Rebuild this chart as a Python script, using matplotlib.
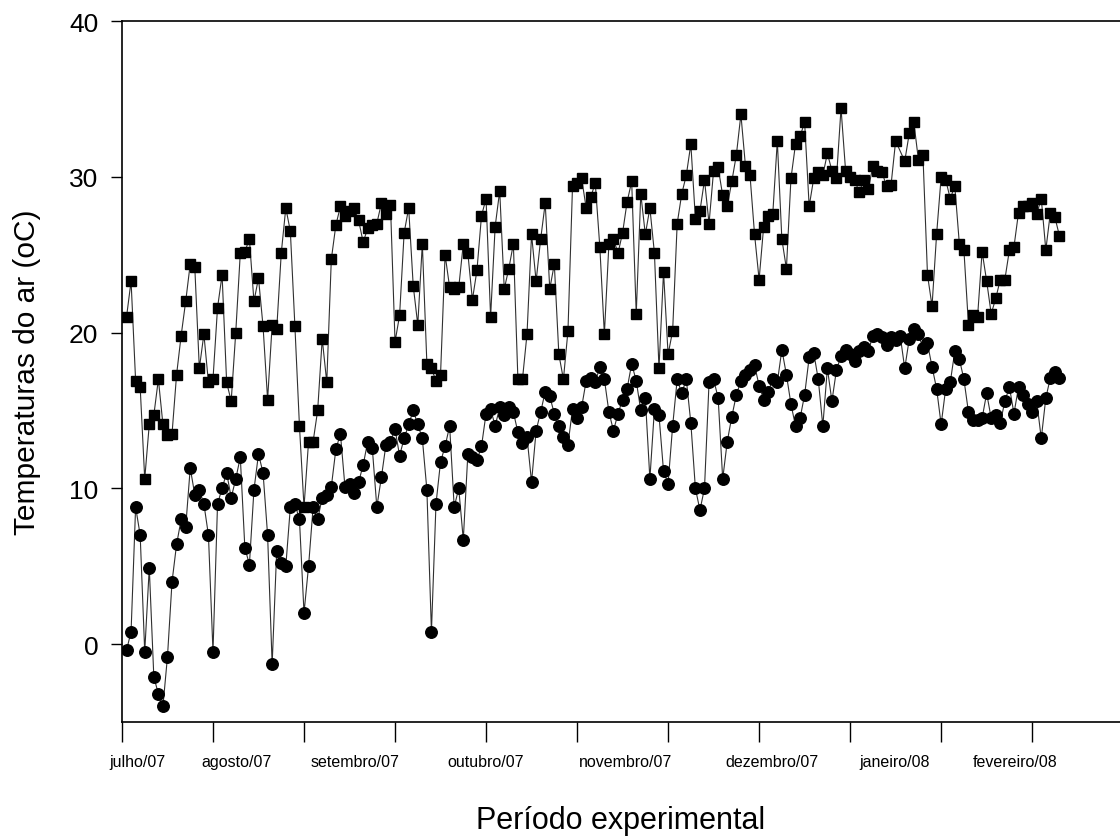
import numpy as np
import matplotlib.pyplot as plt

plt.rcParams['font.family'] = ['Liberation Sans', 'DejaVu Sans']

# dias do periodo experimental (1 = 1o dia de julho/07)
dias = np.arange(1, 207)

# temperatura maxima do ar (sem leitura no dia 171)
t_max = [21.0, 23.3, 16.9, 16.5, 10.6, 14.1, 14.7, 17.0, 14.1, 13.4,
         13.5, 17.3, 19.8, 22.0, 24.4, 24.2, 17.7, 19.9, 16.8, 17.0,
         21.6, 23.7, 16.8, 15.6, 20.0, 25.1, 25.2, 26.0, 22.0, 23.5,
         20.4, 15.7, 20.5, 20.2, 25.1, 28.0, 26.5, 20.4, 14.0, 8.8,
         13.0, 13.0, 15.0, 19.6, 16.8, 24.7, 26.9, 28.1, 27.5, 27.8,
         28.0, 27.2, 25.8, 26.7, 26.9, 27.0, 28.3, 27.6, 28.2, 19.4,
         21.1, 26.4, 28.0, 23.0, 20.5, 25.7, 18.0, 17.7, 16.9, 17.3,
         25.0, 22.9, 22.8, 22.9, 25.7, 25.1, 22.1, 24.0, 27.5, 28.6,
         21.0, 26.8, 29.1, 22.8, 24.1, 25.7, 17.0, 17.0, 19.9, 26.3,
         23.3, 26.0, 28.3, 22.8, 24.4, 18.6, 17.0, 20.1, 29.4, 29.6,
         29.9, 28.0, 28.7, 29.6, 25.5, 19.9, 25.7, 26.0, 25.1, 26.4,
         28.4, 29.7, 21.2, 28.9, 26.3, 28.0, 25.1, 17.7, 23.9, 18.6,
         20.1, 27.0, 28.9, 30.1, 32.1, 27.3, 27.8, 29.8, 27.0, 30.4,
         30.6, 28.8, 28.1, 29.7, 31.4, 34.0, 30.7, 30.1, 26.3, 23.4,
         26.8, 27.5, 27.6, 32.3, 26.0, 24.1, 29.9, 32.1, 32.6, 33.5,
         28.1, 29.9, 30.3, 30.1, 31.5, 30.4, 29.9, 34.4, 30.4, 30.0,
         29.8, 29.0, 29.8, 29.2, 30.7, 30.4, 30.3, 29.4, 29.5, 32.3,
         31.0, 32.8, 33.5, 31.1, 31.4, 23.7, 21.7, 26.3, 30.0, 29.8,
         28.6, 29.4, 25.7, 25.3, 20.5, 21.1, 21.0, 25.2, 23.3, 21.2,
         22.2, 23.4, 23.4, 25.3, 25.5, 27.7, 28.1, 28.1, 28.3, 27.6,
         28.6, 25.3, 27.7, 27.4, 26.2]
dias_max = np.delete(dias, 170)

# temperatura minima do ar
t_min = [-0.4, 0.8, 8.8, 7.0, -0.5, 4.9, -2.1, -3.2, -4.0, -0.8,
         4.0, 6.4, 8.0, 7.5, 11.3, 9.6, 9.9, 9.0, 7.0, -0.5,
         9.0, 10.0, 11.0, 9.4, 10.6, 12.0, 6.2, 5.1, 9.9, 12.2,
         11.0, 7.0, -1.3, 6.0, 5.2, 5.0, 8.8, 9.0, 8.0, 2.0,
         5.0, 8.8, 8.0, 9.4, 9.6, 10.1, 12.5, 13.5, 10.1, 10.3,
         9.7, 10.4, 11.5, 13.0, 12.6, 8.8, 10.7, 12.8, 13.0, 13.8,
         12.1, 13.2, 14.1, 15.0, 14.1, 13.2, 9.9, 0.8, 9.0, 11.7,
         12.7, 14.0, 8.8, 10.0, 6.7, 12.2, 12.0, 11.8, 12.7, 14.8,
         15.1, 14.0, 15.2, 14.7, 15.2, 14.9, 13.6, 12.9, 13.3, 10.4,
         13.7, 14.9, 16.2, 15.9, 14.8, 14.0, 13.3, 12.8, 15.1, 14.5,
         15.2, 16.9, 17.1, 16.8, 17.8, 17.0, 14.9, 13.7, 14.8, 15.7,
         16.4, 18.0, 16.9, 15.0, 15.8, 10.6, 15.1, 14.7, 11.1, 10.3,
         14.0, 17.0, 16.1, 17.0, 14.2, 10.0, 8.6, 10.0, 16.8, 17.0,
         15.8, 10.6, 13.0, 14.6, 16.0, 16.9, 17.3, 17.6, 17.9, 16.6,
         15.7, 16.2, 17.0, 16.8, 18.9, 17.3, 15.4, 14.0, 14.5, 16.0,
         18.4, 18.7, 17.0, 14.0, 17.7, 15.6, 17.6, 18.5, 18.9, 18.6,
         18.2, 18.8, 19.1, 18.8, 19.8, 19.9, 19.7, 19.2, 19.7, 19.5,
         19.8, 17.7, 19.6, 20.2, 19.9, 19.0, 19.3, 17.8, 16.4, 14.1,
         16.4, 16.8, 18.8, 18.3, 17.0, 14.9, 14.4, 14.4, 14.5, 16.1,
         14.5, 14.7, 14.2, 15.6, 16.5, 14.8, 16.5, 16.0, 15.4, 14.9,
         15.6, 13.2, 15.8, 17.1, 17.5, 17.1]

meses = ['julho/07', 'agosto/07', 'setembro/07', 'outubro/07',
         'novembro/07', 'dezembro/07', 'janeiro/08', 'fevereiro/08']
pos_meses = [3.5, 25.1, 51.2, 79.8, 110.6, 142.9, 169.7, 196.2]

fig = plt.figure(figsize=(11.2, 8.37), dpi=100)
ax = fig.add_axes([0.1089, 0.1362, 0.8911, 0.8375])

ax.plot(dias_max, t_max, color='#303030', lw=0.8, marker='s', ms=7.8,
        mfc='black', mec='black')
ax.plot(dias, t_min, color='#303030', lw=0.8, marker='o', ms=8.3,
        mfc='black', mec='black')

ax.set_xlim(0, 219.3)
ax.set_ylim(-5, 40)
ax.set_yticks([0, 10, 20, 30, 40])
ax.tick_params(axis='y', labelsize=19, length=8, width=1, pad=9)

ax.set_xticks(np.arange(0, 201, 20))
ax.set_xticklabels([])
ax.tick_params(axis='x', which='major', length=14.5, width=1)
ax.set_xticks(pos_meses, meses, minor=True)
ax.tick_params(axis='x', which='minor', length=0, pad=23, labelsize=11.5)

ax.spines['right'].set_visible(False)
for s in ['left', 'bottom', 'top']:
    ax.spines[s].set_linewidth(1.2)

ax.set_ylabel('Temperaturas do ar (oC)', fontsize=21.5, labelpad=20)
ax.set_xlabel('Período experimental', fontsize=22, labelpad=26)

plt.savefig('out.png', dpi=100)
